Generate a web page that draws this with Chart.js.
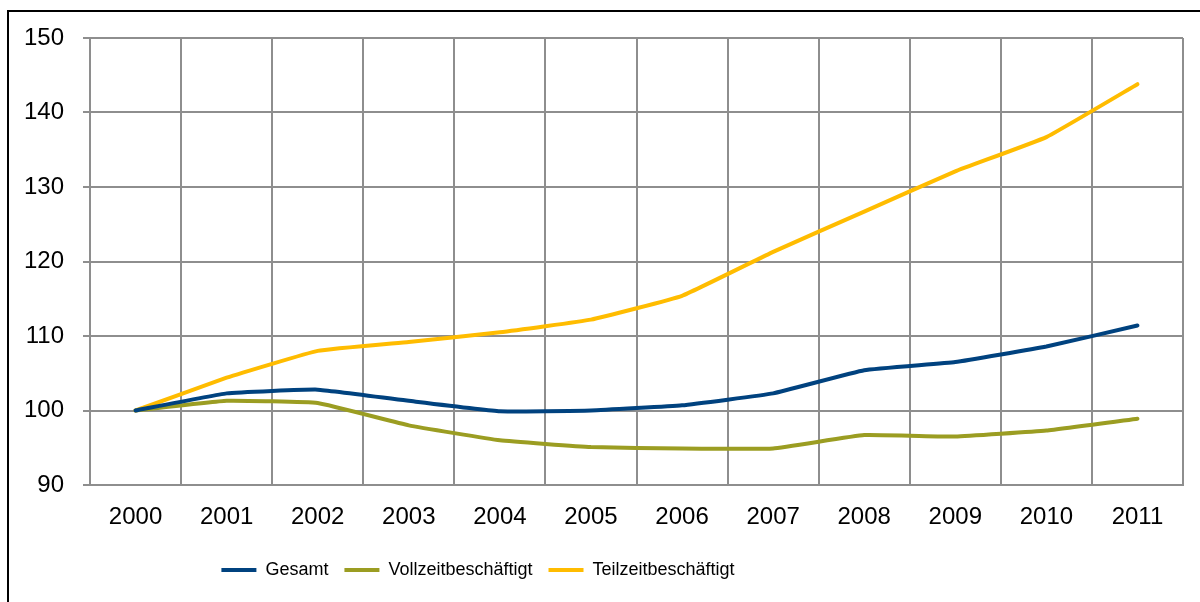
<!DOCTYPE html>
<html>
<head>
<meta charset="utf-8">
<script src="https://cdn.jsdelivr.net/npm/chart.js@4.4.1/dist/chart.umd.min.js"></script>
<style>
    html, body { margin: 0; padding: 0; background: #fff; overflow: hidden; }
    .wrap { position: relative; width: 1200px; height: 602px; }
    .frame { position: absolute; left: 7px; top: 10px; width: 1300px; height: 700px; border: 2px solid #000; box-sizing: border-box; }
    canvas { position: absolute; left: 0; top: 0; }
</style>
</head>
<body>
<div class="wrap">
    <div class="frame"></div>
    <canvas id="lineChart" width="1200" height="602"></canvas>
</div>
<script>
// data (index, 2000 = 100)
const years = ['2000', '2001', '2002', '2003', '2004', '2005', '2006', '2007', '2008', '2009', '2010', '2011'];
const gesamt = [100, 102.3, 102.8, 101.3, 99.9, 100.0, 100.7, 102.3, 105.4, 106.5, 108.6, 111.4];
const vollzeit = [100, 101.3, 101.0, 98.0, 96.0, 95.1, 94.9, 94.9, 96.7, 96.5, 97.3, 98.9];
const teilzeit = [100, 104.4, 108.0, 109.2, 110.5, 112.2, 115.4, 121.3, 126.7, 132.1, 136.7, 143.8];
const yMin = 90;
const yMax = 150;
const yStep = 10;

const FONT = "'Liberation Sans', Arial, sans-serif";
const GRID = '#8e8e8e';

function line(label, data, color) {
    return {
        label,
        data,
        borderColor: color,
        backgroundColor: color,
        borderWidth: 4,
        pointRadius: 0,
        tension: 0.1,
        borderCapStyle: 'round',
        borderJoinStyle: 'round'
    };
}

// move legend a bit to the left like in the original
const legendShift = {
    id: 'legendShift',
    afterLayout(chart) {
        chart.legend.left = 0;
        chart.legend.right = 956;
    }
};

new Chart(document.getElementById('lineChart').getContext('2d'), {
    type: 'line',
    data: {
        labels: years,
        datasets: [
            line('Gesamt', gesamt, '#00427f'),
            line('Vollzeitbeschäftigt', vollzeit, '#9b9d22'),
            line('Teilzeitbeschäftigt', teilzeit, '#ffbc00')
        ]
    },
    plugins: [legendShift],
    options: {
        responsive: false,
        animation: false,
        layout: { padding: { left: 0, top: 38, right: 17, bottom: 13 } },
        scales: {
            x: {
                offset: true,
                grid: { offset: true, color: GRID, lineWidth: 2, drawTicks: false },
                border: { color: GRID, width: 2 },
                ticks: { color: '#000', padding: 18, font: { family: FONT, size: 24 } },
                afterFit: (scale) => { scale.height = 60; }
            },
            y: {
                min: yMin,
                max: yMax,
                grid: { color: GRID, lineWidth: 2, tickLength: 7 },
                border: { color: GRID, width: 2 },
                ticks: { stepSize: yStep, color: '#000', padding: 19, font: { family: FONT, size: 24 } },
                afterFit: (scale) => { scale.width = 90; }
            }
        },
        plugins: {
            tooltip: { enabled: false },
            legend: {
                position: 'bottom',
                labels: {
                    boxWidth: 35,
                    boxHeight: 4,
                    padding: 16,
                    color: '#000',
                    font: { family: FONT, size: 18 },
                    generateLabels: (chart) => Chart.defaults.plugins.legend.labels.generateLabels(chart)
                        .map(item => ({ ...item, lineWidth: 0 }))
                }
            }
        }
    }
});
</script>
</body>
</html>
